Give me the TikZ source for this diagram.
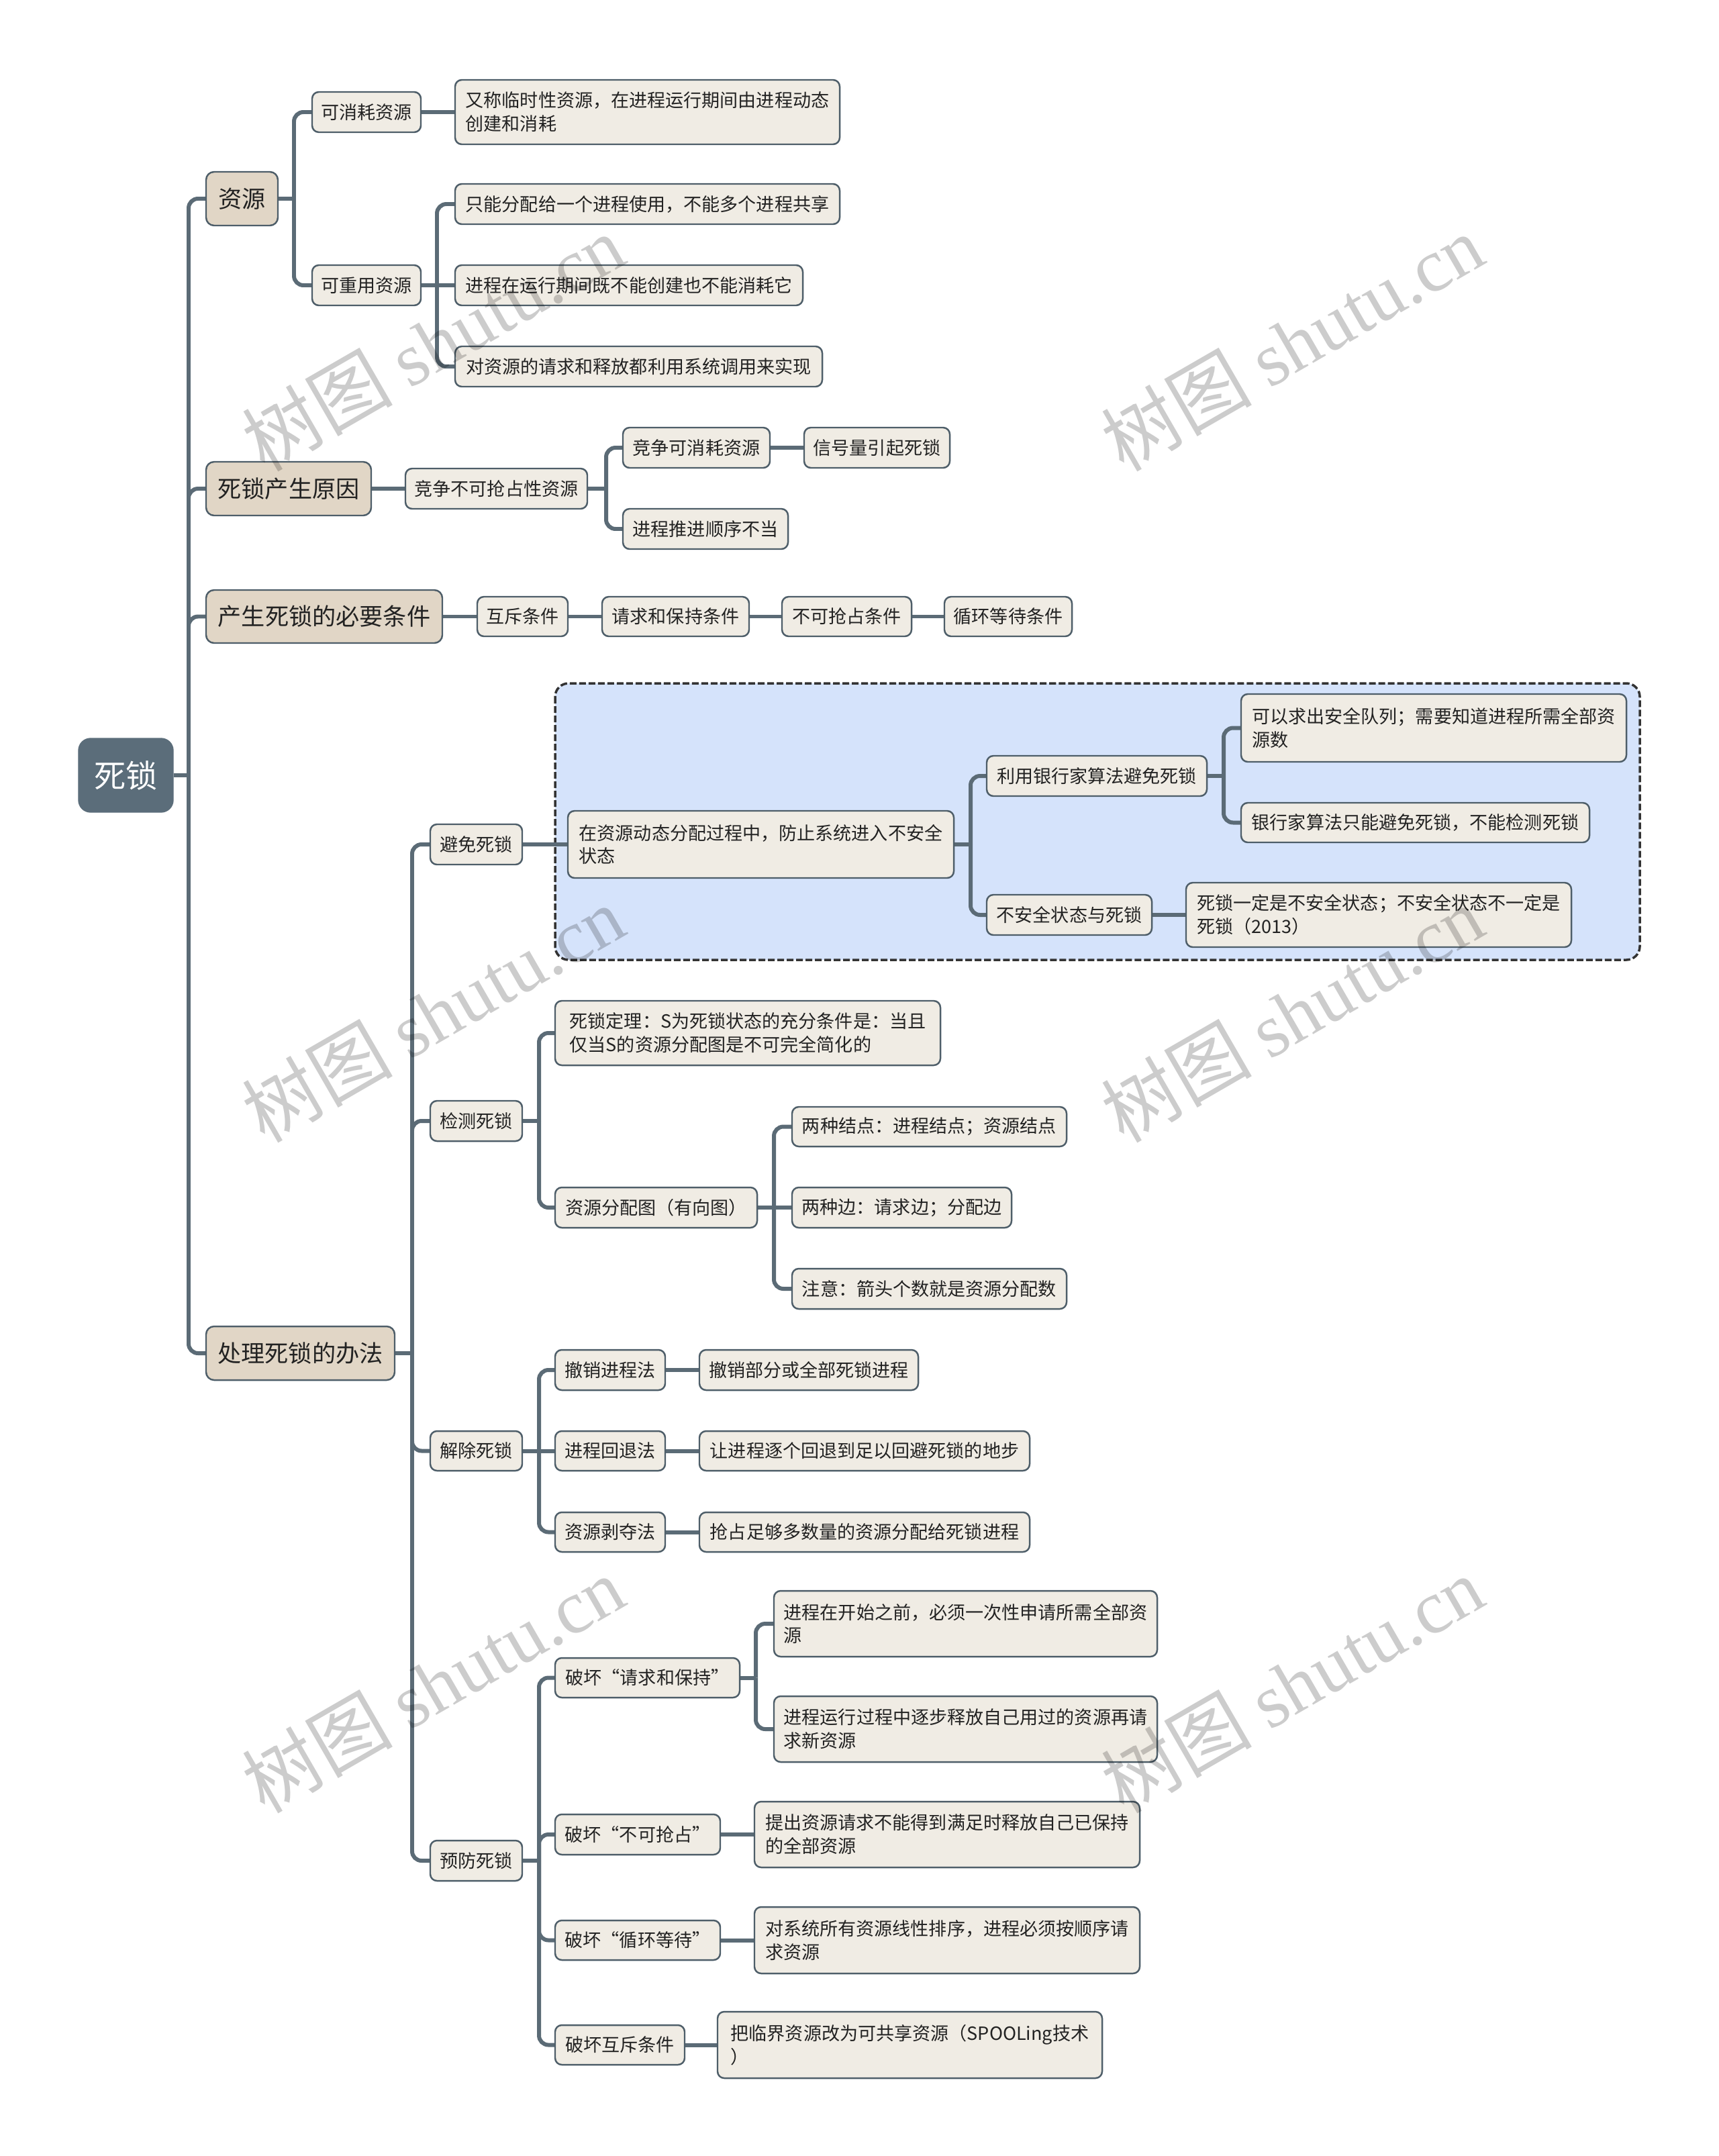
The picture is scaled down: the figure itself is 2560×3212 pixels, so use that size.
\documentclass[tikz,border=0pt]{standalone}
\usepackage{fontspec}
\setmainfont{Noto Sans CJK SC}
\newfontfamily\wmserif{Liberation Serif}
\usetikzlibrary{calc}
\definecolor{rootC}{HTML}{5B6D7A}
\definecolor{lineC}{HTML}{5B6B76}
\definecolor{tanC}{HTML}{E1D6C6}
\definecolor{leafC}{HTML}{F0ECE4}
\definecolor{bdC}{HTML}{4E5E69}
\definecolor{blueC}{HTML}{D5E3FB}
\definecolor{txtC}{HTML}{222222}
\pgfdeclarelayer{bg}
\pgfsetlayers{bg,main}
\newcommand\nd[7]{\pgfmathsetmacro\ww{(#5-#3)*0.01}\pgfmathsetmacro\hh{(#6-#4)*0.01}\node[#1,minimum width=\ww cm,minimum height=\hh cm] (#2) at ({(#3+#5)/2},{(#4+#6)/2}) {#7};}
\newcommand\stem[2]{\draw[conn] (#2.east) -- (#2.east -| #1);}
\newcommand\elbow[3]{\draw[conn, rounded corners=0.14cm] (#2.east -| #1) -- (#1 |- #3.west) -- (#3.west);}
\newcommand\strt[2]{\draw[conn] (#1.east) -- (#2.west);}
\newcommand\wm[3]{\node[rotate=30, text=black, opacity=0.2, font=\fontsize{32pt}{32pt}\selectfont] (#1) at (#2,#3) {树图 {\wmserif shutu.cn}};}
\begin{document}
\begin{tikzpicture}[x=0.01cm, y=-0.01cm,
  box/.style={draw=bdC, line width=0.7pt, rounded corners=0.1cm, inner xsep=0.1cm, inner ysep=0.04cm, text=txtC, align=left},
  leaf/.style={box, fill=leafC, font=\fontsize{7.7pt}{9.9pt}\selectfont},
  lvl/.style={box, fill=tanC, rounded corners=0.12cm, font=\fontsize{10pt}{12pt}\selectfont},
  rootn/.style={fill=rootC, draw=rootC, rounded corners=0.18cm, text=white, inner sep=0pt, font=\fontsize{13.4pt}{16pt}\selectfont},
  conn/.style={draw=lineC, line width=1.7pt}]
\begin{pgfonlayer}{bg}
\fill[white] (0,0) rectangle (2560,3212);
\end{pgfonlayer}
\useasboundingbox (0,0) rectangle (2560,3212);

% nodes
\nd{rootn}{root}{117}{1100}{258}{1210}{死锁}
\nd{lvl}{zy}{307}{256}{414}{336}{资源}
\nd{lvl}{yy}{307}{688}{553}{768}{死锁产生原因}
\nd{lvl}{bt}{307}{879}{659}{958}{产生死锁的必要条件}
\nd{lvl}{bf}{307}{1976}{588}{2056}{处理死锁的办法}

\nd{leaf}{xh}{465}{137}{627}{197}{可消耗资源}
\nd{leaf}{cy}{465}{395}{627}{455}{可重用资源}
\nd{leaf}{xh1}{678}{119}{1251}{215}{又称临时性资源，在进程运行期间由进程动态\\创建和消耗}
\nd{leaf}{cy1}{678}{274}{1251}{334}{只能分配给一个进程使用，不能多个进程共享}
\nd{leaf}{cy2}{678}{395}{1196}{455}{进程在运行期间既不能创建也不能消耗它}
\nd{leaf}{cy3}{678}{516}{1225}{576}{对资源的请求和释放都利用系统调用来实现}

\nd{leaf}{jz}{604}{698}{875}{758}{竞争不可抢占性资源}
\nd{leaf}{jz1}{928}{637}{1147}{697}{竞争可消耗资源}
\nd{leaf}{jz2}{928}{758}{1174}{818}{进程推进顺序不当}
\nd{leaf}{jz1a}{1198}{637}{1415}{697}{信号量引起死锁}

\nd{leaf}{c1}{711}{889}{846}{948}{互斥条件}
\nd{leaf}{c2}{897}{889}{1116}{948}{请求和保持条件}
\nd{leaf}{c3}{1165}{889}{1358}{948}{不可抢占条件}
\nd{leaf}{c4}{1407}{889}{1597}{948}{循环等待条件}

\nd{leaf}{bm}{641}{1228}{778}{1288}{避免死锁}
\nd{leaf}{jc}{641}{1640}{778}{1700}{检测死锁}
\nd{leaf}{jq}{641}{2132}{778}{2191}{解除死锁}
\nd{leaf}{yf}{641}{2742}{778}{2802}{预防死锁}

\nd{leaf}{zt}{846}{1208}{1421}{1308}{在资源动态分配过程中，防止系统进入不安全\\状态}
\nd{leaf}{yh}{1470}{1126}{1798}{1186}{利用银行家算法避免死锁}
\nd{leaf}{bq}{1470}{1333}{1716}{1393}{不安全状态与死锁}
\nd{leaf}{yh1}{1849}{1034}{2423}{1135}{可以求出安全队列；需要知道进程所需全部资\\源数}
\nd{leaf}{yh2}{1849}{1196}{2368}{1255}{银行家算法只能避免死锁，不能检测死锁}
\nd{leaf}{bq1}{1767}{1315}{2341}{1411}{死锁一定是不安全状态；不安全状态不一定是\\死锁（2013）}

\nd{leaf}{dl}{827}{1491}{1401}{1587}{死锁定理：S为死锁状态的充分条件是：当且\\仅当S的资源分配图是不可完全简化的}
\nd{leaf}{tu}{827}{1769}{1128}{1829}{资源分配图（有向图）}
\nd{leaf}{t1}{1180}{1649}{1589}{1708}{两种结点：进程结点；资源结点}
\nd{leaf}{t2}{1180}{1769}{1507}{1829}{两种边：请求边；分配边}
\nd{leaf}{t3}{1180}{1890}{1589}{1950}{注意：箭头个数就是资源分配数}

\nd{leaf}{q1}{827}{2011}{991}{2071}{撤销进程法}
\nd{leaf}{q2}{827}{2132}{991}{2191}{进程回退法}
\nd{leaf}{q3}{827}{2253}{991}{2312}{资源剥夺法}
\nd{leaf}{q1a}{1042}{2011}{1368}{2071}{撤销部分或全部死锁进程}
\nd{leaf}{q2a}{1042}{2132}{1534}{2191}{让进程逐个回退到足以回避死锁的地步}
\nd{leaf}{q3a}{1042}{2253}{1534}{2312}{抢占足够多数量的资源分配给死锁进程}

\nd{leaf}{p1}{827}{2470}{1102}{2529}{破坏“请求和保持”}
\nd{leaf}{p2}{827}{2703}{1073}{2763}{破坏“不可抢占”}
\nd{leaf}{p3}{827}{2861}{1073}{2920}{破坏“循环等待”}
\nd{leaf}{p4}{827}{3017}{1020}{3076}{破坏互斥条件}
\nd{leaf}{p11}{1153}{2370}{1724}{2468}{进程在开始之前，必须一次性申请所需全部资\\源}
\nd{leaf}{p12}{1153}{2527}{1724}{2625}{进程运行过程中逐步释放自己用过的资源再请\\求新资源}
\nd{leaf}{p21}{1124}{2684}{1698}{2782}{提出资源请求不能得到满足时释放自己已保持\\的全部资源}
\nd{leaf}{p31}{1124}{2841}{1698}{2940}{对系统所有资源线性排序，进程必须按顺序请\\求资源}
\nd{leaf}{p41}{1069}{2997}{1642}{3096}{把临界资源改为可共享资源（SPOOLing技术\\）}

% vertical line positions
\coordinate (vT) at (281,0);
\coordinate (vZ) at (438,0);
\coordinate (vC) at (651,0);
\coordinate (vJ) at (903,0);
\coordinate (vB) at (614,0);
\coordinate (vZt) at (1446,0);
\coordinate (vYh) at (1823,0);
\coordinate (vD) at (803,0);
\coordinate (vTu) at (1153,0);
\coordinate (vP) at (1126,0);

\begin{pgfonlayer}{bg}
\draw[fill=blueC, draw=black!80, line width=1pt, dash pattern=on 0.1cm off 0.04cm, rounded corners=0.2cm] (827,1018) rectangle (2443,1430);
\stem{vT}{root}
\elbow{vT}{root}{zy}\elbow{vT}{root}{yy}\elbow{vT}{root}{bt}\elbow{vT}{root}{bf}
\stem{vZ}{zy}
\elbow{vZ}{zy}{xh}\elbow{vZ}{zy}{cy}
\strt{xh}{xh1}
\stem{vC}{cy}
\elbow{vC}{cy}{cy1}\elbow{vC}{cy}{cy3}\strt{cy}{cy2}
\strt{yy}{jz}
\stem{vJ}{jz}
\elbow{vJ}{jz}{jz1}\elbow{vJ}{jz}{jz2}
\strt{jz1}{jz1a}
\strt{bt}{c1}\strt{c1}{c2}\strt{c2}{c3}\strt{c3}{c4}
\stem{vB}{bf}
\elbow{vB}{bf}{bm}\elbow{vB}{bf}{jc}\elbow{vB}{bf}{jq}\elbow{vB}{bf}{yf}
\strt{bm}{zt}
\stem{vZt}{zt}
\elbow{vZt}{zt}{yh}\elbow{vZt}{zt}{bq}
\stem{vYh}{yh}
\elbow{vYh}{yh}{yh1}\elbow{vYh}{yh}{yh2}
\strt{bq}{bq1}
\stem{vD}{jc}
\elbow{vD}{jc}{dl}\elbow{vD}{jc}{tu}
\stem{vTu}{tu}
\elbow{vTu}{tu}{t1}\elbow{vTu}{tu}{t3}\strt{tu}{t2}
\stem{vD}{jq}
\elbow{vD}{jq}{q1}\elbow{vD}{jq}{q3}\strt{jq}{q2}
\strt{q1}{q1a}\strt{q2}{q2a}\strt{q3}{q3a}
\stem{vD}{yf}
\elbow{vD}{yf}{p1}\elbow{vD}{yf}{p2}\elbow{vD}{yf}{p3}\elbow{vD}{yf}{p4}
\stem{vP}{p1}
\elbow{vP}{p1}{p11}\elbow{vP}{p1}{p12}
\strt{p2}{p21}\strt{p3}{p31}\strt{p4}{p41}
\end{pgfonlayer}

% watermarks
\wm{wm1}{645}{510}
\wm{wm2}{1925}{510}
\wm{wm3}{645}{1510}
\wm{wm4}{1925}{1510}
\wm{wm5}{645}{2509}
\wm{wm6}{1925}{2509}
\end{tikzpicture}
\end{document}
